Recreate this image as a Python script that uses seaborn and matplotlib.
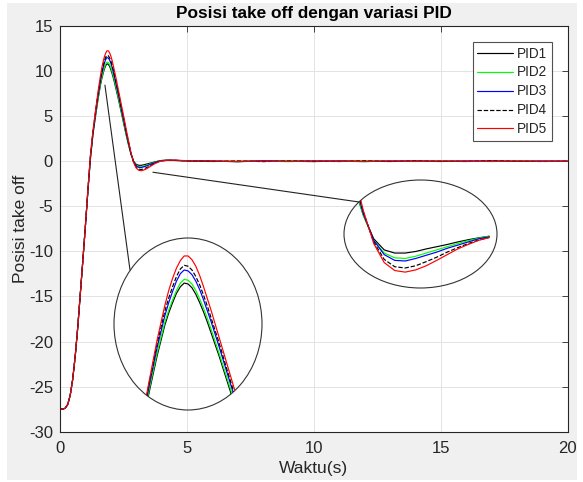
import numpy as np
import pandas as pd
import matplotlib
matplotlib.use("Agg")
import matplotlib.pyplot as plt
import seaborn as sns
from matplotlib.patches import Ellipse, Rectangle, ConnectionPatch

# ---------------- data ----------------
t = [0.0, 0.1, 0.2, 0.3, 0.4, 0.5, 0.6, 0.7, 0.8, 0.9, 1.0, 1.1, 1.2, 1.3, 1.4, 1.5, 1.6,
     1.65, 1.7, 1.75, 1.8, 1.85, 1.9, 1.95, 2.0, 2.05, 2.1, 2.15, 2.2,
     2.3, 2.4, 2.5, 2.6, 2.7, 2.8, 2.9, 3.0, 3.1, 3.2, 3.3, 3.4, 3.5, 3.6, 3.7, 3.8, 3.9, 4.0,
     4.2, 4.5, 5, 6, 7, 8, 9, 10, 11, 12, 13, 14, 15, 16, 17, 18, 19, 20]

pid1 = [-27.5, -27.5, -27.4, -27.0, -26.0, -24.2, -21.6, -18.4, -14.7, -11.0, -7.2, -3.3, 0.3, 3.0, 5.0, 6.9, 8.55,
        9.2, 9.75, 10.25, 10.6, 10.8, 10.75, 10.55, 10.2, 9.75, 9.25, 8.7, 8.1,
        6.9, 5.6, 4.3, 3.0, 1.8, 0.75, 0.0, -0.35, -0.45, -0.45, -0.4, -0.32, -0.25, -0.18, -0.1, -0.03, 0.03, 0.08,
        0.12, 0.1, 0.05, 0.02, -0.05, 0.03, 0.0, -0.04, 0.03, 0.0, -0.03, 0.02, 0.0, -0.03, 0.02, 0.0, -0.02, 0.0]

pid2 = [-27.5, -27.5, -27.4, -27.0, -26.0, -24.2, -21.6, -18.4, -14.7, -11.0, -7.2, -3.25, 0.4, 3.1, 5.15, 7.05, 8.7,
        9.35, 9.9, 10.4, 10.8, 11.0, 10.95, 10.75, 10.4, 9.95, 9.45, 8.9, 8.3,
        7.05, 5.75, 4.45, 3.1, 1.85, 0.75, -0.05, -0.45, -0.6, -0.62, -0.55, -0.45, -0.35, -0.25, -0.15, -0.06, 0.02, 0.08,
        0.1, 0.08, 0.03, -0.04, 0.02, -0.03, 0.04, 0.0, -0.03, 0.03, 0.0, -0.03, 0.02, 0.0, -0.02, 0.02, 0.0, 0.0]

pid3 = [-27.5, -27.5, -27.4, -27.0, -26.0, -24.2, -21.6, -18.4, -14.7, -11.0, -7.2, -3.2, 0.5, 3.2, 5.35, 7.35, 9.05,
        9.75, 10.35, 10.9, 11.3, 11.5, 11.45, 11.25, 10.9, 10.45, 9.9, 9.3, 8.7,
        7.4, 6.05, 4.7, 3.3, 2.0, 0.8, -0.05, -0.5, -0.68, -0.7, -0.62, -0.52, -0.42, -0.3, -0.2, -0.1, 0.0, 0.06,
        0.1, 0.09, 0.04, 0.0, -0.04, 0.04, -0.02, 0.03, 0.0, -0.04, 0.02, 0.0, -0.03, 0.03, 0.0, -0.02, 0.02, 0.0]

pid4 = [-27.5, -27.5, -27.4, -27.0, -26.0, -24.2, -21.6, -18.4, -14.7, -11.0, -7.2, -3.15, 0.6, 3.3, 5.5, 7.55, 9.3,
        10.0, 10.6, 11.15, 11.55, 11.75, 11.7, 11.5, 11.15, 10.7, 10.15, 9.55, 8.9,
        7.6, 6.2, 4.85, 3.45, 2.1, 0.85, -0.1, -0.65, -0.88, -0.92, -0.85, -0.72, -0.58, -0.42, -0.28, -0.15, -0.04, 0.04,
        0.09, 0.1, 0.05, -0.02, 0.03, -0.04, 0.02, 0.0, -0.03, 0.04, -0.02, 0.02, 0.0, -0.02, 0.03, 0.0, -0.03, 0.0]

pid5 = [-27.5, -27.5, -27.4, -27.0, -26.0, -24.2, -21.6, -18.4, -14.7, -11.0, -7.2, -3.1, 0.7, 3.4, 5.6, 7.75, 9.6,
        10.4, 11.05, 11.6, 12.0, 12.25, 12.25, 12.05, 11.7, 11.2, 10.6, 9.95, 9.3,
        7.9, 6.5, 5.1, 3.65, 2.25, 0.9, -0.15, -0.75, -1.0, -1.05, -0.98, -0.85, -0.68, -0.5, -0.32, -0.18, -0.05, 0.04,
        0.1, 0.12, 0.06, 0.02, -0.03, 0.02, -0.04, 0.03, 0.0, -0.03, 0.03, -0.02, 0.02, 0.0, -0.03, 0.02, 0.0, 0.0]

labels = ["PID1", "PID2", "PID3", "PID4", "PID5"]
series = [pid1, pid2, pid3, pid4, pid5]

title = "Posisi take off dengan variasi PID"
xlabel = "Waktu(s)"
ylabel = "Posisi take off"
xticks = [0, 5, 10, 15, 20]
yticks = [-30, -25, -20, -15, -10, -5, 0, 5, 10, 15]

# ---------------- styles ----------------
colors = ["#000000", "#00ff00", "#0000ff", "#000000", "#ff0000"]
dashes = ["-", "-", "-", "--", "-"]

sns.set_theme(style="white")
plt.rcParams["font.family"] = ["Liberation Sans", "DejaVu Sans"]
plt.rcParams["axes.unicode_minus"] = False

fig = plt.figure(figsize=(5.83, 4.82), dpi=100, facecolor="white")
fig.add_artist(Rectangle((7 / 583, 1 - 480 / 482), 570 / 583, 477 / 482,
                         transform=fig.transFigure, facecolor="#f0f0f0",
                         edgecolor="none", zorder=-10))

ax = fig.add_axes([60 / 583, 1 - 431.7 / 482, 507.7 / 583, 405.7 / 482])
ax.set_facecolor("white")

df = pd.DataFrame({"t": t})
for lab, s in zip(labels, series):
    df[lab] = s

for lab, c, ls in zip(labels, colors, dashes):
    sns.lineplot(x="t", y=lab, data=df, color=c, linestyle=ls, linewidth=0.85,
                 label=lab, ax=ax, estimator=None, sort=False)

ax.set_xlim(0, 20)
ax.set_ylim(-30, 15)
ax.set_xticks(xticks)
ax.set_yticks(yticks)
ax.grid(True, color="#e3e3e3", linewidth=0.7)
ax.set_axisbelow(True)
ax.tick_params(direction="in", length=4, width=0.6, colors="#262626",
               labelsize=12, top=True, right=True, pad=5)
ax.tick_params(axis="x", pad=7)
for sp in ax.spines.values():
    sp.set_color("#262626")
    sp.set_linewidth(0.8)
ax.set_xlabel(xlabel, fontsize=12.5, color="#262626", labelpad=3)
ax.set_ylabel(ylabel, fontsize=12.5, color="#262626", labelpad=1)
ax.set_title(title, fontsize=12.4, fontweight="bold", color="#000000", pad=6)

leg = ax.legend(loc="upper right", bbox_to_anchor=(0.969, 0.961), borderaxespad=0,
                fontsize=9.8, frameon=True, fancybox=False, handlelength=2.6,
                handletextpad=0.3, labelspacing=0.36, borderpad=0.35)
leg.get_frame().set_edgecolor("#262626")
leg.get_frame().set_linewidth(0.8)

# ---------------- elliptical zoom insets ----------------
def zoom_inset(rect, xlim, ylim, tmax=None):
    ins = fig.add_axes(rect)
    ins.set_xlim(*xlim)
    ins.set_ylim(*ylim)
    ins.set_axis_off()
    ins.patch.set_alpha(0)
    ell = Ellipse((0.5, 0.5), 1, 1, transform=ins.transAxes, fill=False,
                  edgecolor="#333333", linewidth=0.8, clip_on=False)
    ins.add_patch(ell)
    sub = df if tmax is None else df[df["t"] <= tmax]
    for lab, c, ls in zip(labels, colors, dashes):
        sns.lineplot(x="t", y=lab, data=sub, color=c, linestyle=ls, linewidth=0.85,
                     ax=ins, estimator=None, sort=False, legend=False)
    for ln in ins.lines:
        ln.set_clip_path(ell)
    return ins

ins1 = zoom_inset([114 / 583, 1 - 410 / 482, 148 / 583, 172 / 482], (0.944, 2.854), (4.01, 13.21))
ins2 = zoom_inset([344 / 583, 1 - 288 / 482, 153 / 583, 108 / 482], (2.617, 4.074), (-1.55, 1.85), tmax=4.0)

# connector lines from the main curves to the insets
for xyA, xyB in [((1.77, 8.44), (130 / 583, 1 - 270 / 482)),
                 ((3.66, -1.22), (359 / 583, 1 - 202 / 482))]:
    con = ConnectionPatch(xyA=xyA, coordsA=ax.transData, xyB=xyB, coordsB=fig.transFigure,
                          color="#222222", linewidth=0.8)
    fig.add_artist(con)

fig.savefig("out.png", dpi=100, facecolor=fig.get_facecolor())
